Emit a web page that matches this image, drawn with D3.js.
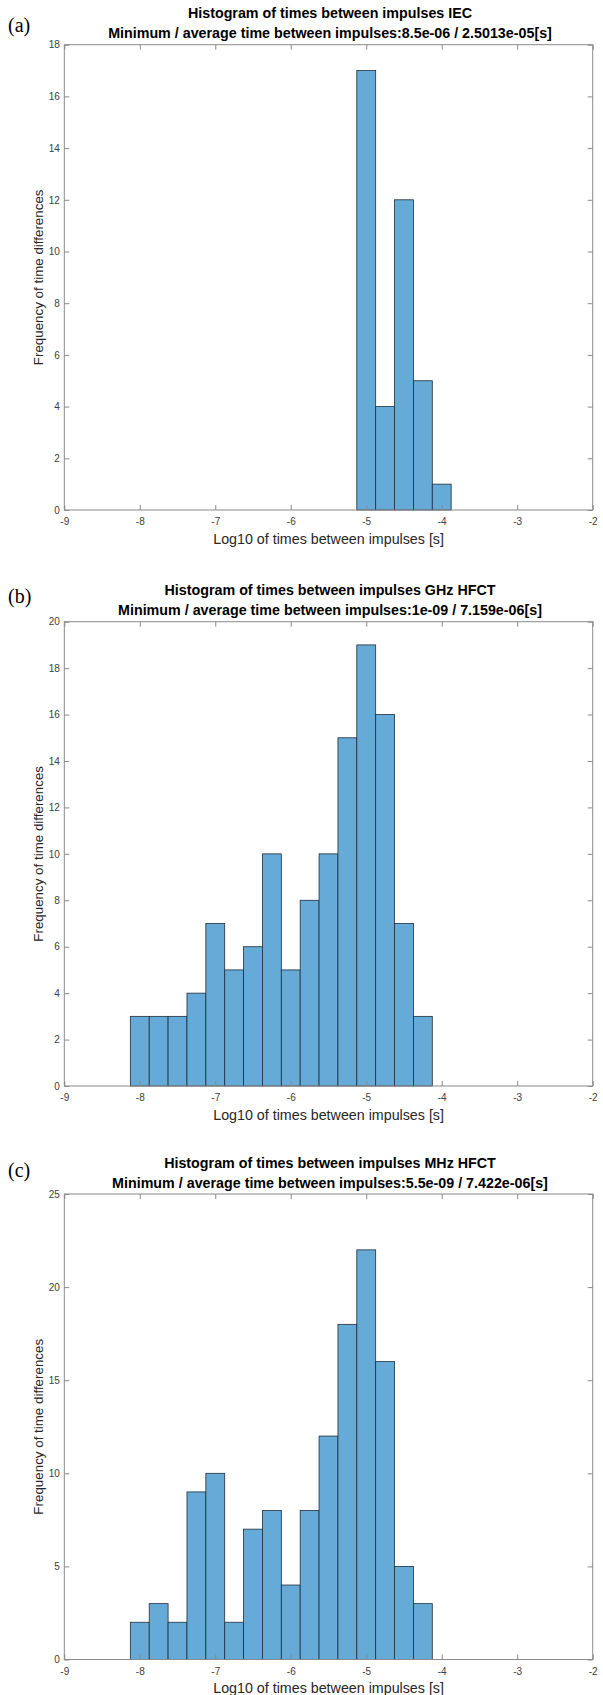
<!DOCTYPE html>
<html>
<head>
<meta charset="utf-8">
<script src="https://cdn.jsdelivr.net/npm/d3@7"></script>
<style>
  html, body { margin: 0; padding: 0; background: #fff; }
  svg { display: block; }
</style>
</head>
<body>
<svg id="fig" width="603" height="1695"></svg>
<script>
// Histogram data: log10 of time between impulses, bin width 0.25
const xTicks = [-9, -8, -7, -6, -5, -4, -3, -2];
const binWidth = 0.25;

const binStartIEC = -5.125;
const countsIEC = [17, 4, 12, 5, 1];
const yTicksIEC = [0, 2, 4, 6, 8, 10, 12, 14, 16, 18];

const binStartGHz = -8.125;
const countsGHz = [3, 3, 3, 4, 7, 5, 6, 10, 5, 8, 10, 15, 19, 16, 7, 3];
const yTicksGHz = [0, 2, 4, 6, 8, 10, 12, 14, 16, 18, 20];

const binStartMHz = -8.125;
const countsMHz = [2, 3, 2, 9, 10, 2, 7, 8, 4, 8, 12, 18, 22, 16, 5, 3];
const yTicksMHz = [0, 5, 10, 15, 20, 25];

const panelLabels = ["(a)", "(b)", "(c)"];
const titleLines1 = [
  "Histogram of times between impulses IEC",
  "Histogram of times between impulses GHz HFCT",
  "Histogram of times between impulses MHz HFCT"
];
const titleLines2 = [
  "Minimum / average time between impulses:8.5e-06 / 2.5013e-05[s]",
  "Minimum / average time between impulses:1e-09 / 7.159e-06[s]",
  "Minimum / average time between impulses:5.5e-09 / 7.422e-06[s]"
];
const xLabel = "Log10 of times between impulses [s]";
const yLabel = "Frequency of time differences";

const panels = [
  { start: binStartIEC, counts: countsIEC, yTicks: yTicksIEC, top: 44.7, bottom: 510, labelY: 32 },
  { start: binStartGHz, counts: countsGHz, yTicks: yTicksGHz, top: 621.7, bottom: 1086, labelY: 603 },
  { start: binStartMHz, counts: countsMHz, yTicks: yTicksMHz, top: 1194, bottom: 1659.5, labelY: 1177 }
];

const left = 64.3, right = 592.7;
const axisColor = "#8a8a8a";
const tickTextColor = "#404040";
const barFill = "#66aad7";
const barStroke = "#1f2d3a";
const sans = "'Liberation Sans', Arial, Helvetica, sans-serif";
const serif = "'Liberation Serif', 'Times New Roman', serif";

const svg = d3.select("#fig");
svg.append("rect").attr("width", 603).attr("height", 1695).attr("fill", "#fff");

// pick a font size so a string spans a given width
function fitSize(str, weight, width) {
  const t = svg.append("text").style("font-family", sans).style("font-weight", weight)
    .style("font-size", "20px").text(str);
  const w = t.node().getComputedTextLength();
  t.remove();
  return 20 * width / w;
}
const titleSize = fitSize(titleLines2[0], "bold", 444);
const xLabelSize = fitSize(xLabel, "normal", 231);
const yLabelSize = fitSize(yLabel, "normal", 176);

panels.forEach((p, i) => {
  const x = d3.scaleLinear().domain([xTicks[0], xTicks[xTicks.length - 1]]).range([left, right]);
  const y = d3.scaleLinear().domain([0, p.yTicks[p.yTicks.length - 1]]).range([p.bottom, p.top]);
  const g = svg.append("g");

  // bars
  g.append("g").selectAll("rect")
    .data(p.counts)
    .join("rect")
    .attr("x", (d, k) => x(p.start + k * binWidth))
    .attr("width", (d, k) => x(p.start + (k + 1) * binWidth) - x(p.start + k * binWidth))
    .attr("y", d => y(d))
    .attr("height", d => y(0) - y(d))
    .attr("fill", barFill)
    .attr("stroke", barStroke)
    .attr("stroke-width", 0.8);

  const style = sel => {
    sel.select(".domain").remove();
    sel.selectAll(".tick line").attr("stroke", axisColor).attr("stroke-width", 1);
    sel.selectAll(".tick text").attr("fill", tickTextColor)
      .style("font-size", "10px").style("font-family", sans);
  };
  const fmt = d => String(d);

  // axes with inward ticks on all four sides
  g.append("g").attr("transform", `translate(0,${p.bottom})`)
    .call(d3.axisBottom(x).tickValues(xTicks).tickSize(-5).tickPadding(8).tickFormat(fmt))
    .call(style);
  g.append("g").attr("transform", `translate(0,${p.top})`)
    .call(d3.axisTop(x).tickValues(xTicks).tickSize(-5).tickFormat(""))
    .call(style);
  g.append("g").attr("transform", `translate(${left},0)`)
    .call(d3.axisLeft(y).tickValues(p.yTicks).tickSize(-5).tickPadding(4.5).tickFormat(fmt))
    .call(style);
  g.append("g").attr("transform", `translate(${right},0)`)
    .call(d3.axisRight(y).tickValues(p.yTicks).tickSize(-5).tickFormat(""))
    .call(style);

  // axes box
  g.append("rect")
    .attr("x", left).attr("y", p.top)
    .attr("width", right - left).attr("height", p.bottom - p.top)
    .attr("fill", "none").attr("stroke", axisColor).attr("stroke-width", 1);

  const cx = 330;
  g.append("text").attr("x", cx).attr("y", p.top - 26.4)
    .attr("text-anchor", "middle").attr("fill", "#000")
    .style("font-family", sans).style("font-weight", "bold").style("font-size", titleSize + "px")
    .text(titleLines1[i]);
  g.append("text").attr("x", cx).attr("y", p.top - 6.5)
    .attr("text-anchor", "middle").attr("fill", "#000")
    .style("font-family", sans).style("font-weight", "bold").style("font-size", titleSize + "px")
    .text(titleLines2[i]);

  g.append("text").attr("x", 328.6).attr("y", p.bottom + 33.5)
    .attr("text-anchor", "middle").attr("fill", "#262626")
    .style("font-family", sans).style("font-size", xLabelSize + "px")
    .text(xLabel);

  g.append("text")
    .attr("transform", `translate(43,${(p.top + p.bottom) / 2}) rotate(-90)`)
    .attr("text-anchor", "middle").attr("fill", "#262626")
    .style("font-family", sans).style("font-size", yLabelSize + "px")
    .text(yLabel);

  svg.append("text").attr("x", 8).attr("y", p.labelY).attr("fill", "#000")
    .style("font-family", serif).style("font-size", "20px")
    .text(panelLabels[i]);
});
</script>
</body>
</html>
